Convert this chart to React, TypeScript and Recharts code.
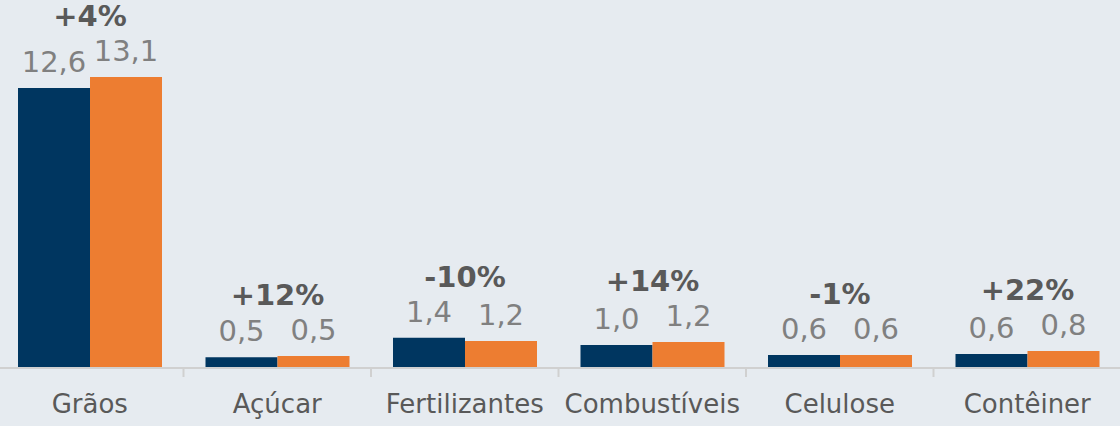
import { BarChart, Bar, XAxis, YAxis, LabelList } from 'recharts'

const categories = ['Grãos', 'Açúcar', 'Fertilizantes', 'Combustíveis', 'Celulose', 'Contêiner']
const anterior = [12.6, 0.48, 1.36, 1.03, 0.58, 0.63]
const atual = [13.1, 0.54, 1.22, 1.17, 0.58, 0.77]
const variacao = ['+4%', '+12%', '-10%', '+14%', '-1%', '+22%']

const data = categories.map((name, i) => ({ name, anterior: anterior[i], atual: atual[i] }))

const W = 1125
const H = 426
const TOP = 57
const XAXIS_H = 58
const AXIS_Y = H - XAXIS_H
const BAND = W / categories.length

const BG = '#e6ebf0'
const NAVY = '#003660'
const ORANGE = '#ed7d31'
const FONT = '"DejaVu Sans", Verdana, sans-serif'

const fmt = (v: number) => v.toFixed(1).replace('.', ',')

function ValueLabel(props: any) {
  const { x, y, width, value } = props
  return (
    <text x={Number(x) + Number(width) / 2} y={Number(y) - 16} textAnchor="middle"
      fontSize={29} fill="#808080" fontFamily={FONT}>
      {fmt(Number(value))}
    </text>
  )
}

function ChangeLabel(props: any) {
  const { x, y, height, index } = props
  const ppu = Number(height) / atual[index]
  const base = Number(y) + Number(height)
  const top = base - Math.max(anterior[index], atual[index]) * ppu
  return (
    <text x={Number(x)} y={top - 51} textAnchor="middle" fontSize={29} fontWeight="bold"
      fill="#595959" fontFamily={FONT}>
      {variacao[index]}
    </text>
  )
}

function CategoryTick(props: any) {
  const { x, payload, index } = props
  return (
    <g>
      {index > 0 && (
        <line x1={x - BAND / 2} x2={x - BAND / 2} y1={AXIS_Y} y2={AXIS_Y + 9} stroke="#d0d0d0" strokeWidth={2} />
      )}
      <text x={x} y={AXIS_Y + 45} textAnchor="middle" fontSize={26} fill="#595959" fontFamily={FONT}>
        {payload.value}
      </text>
    </g>
  )
}

export default function App() {
  return (
    <div style={{ position: 'fixed', inset: 0, background: BG, overflow: 'hidden' }}>
      <div style={{ position: 'absolute', left: -4, top: 0 }}>
        <BarChart width={W} height={H} data={data} barGap={0} barSize={72}
          margin={{ top: TOP, right: 0, bottom: 0, left: 0 }}>
          <XAxis dataKey="name" height={XAXIS_H} interval={0} tickLine={false}
            axisLine={{ stroke: '#d0d0d0', strokeWidth: 2 }} tick={<CategoryTick />} />
          <YAxis hide domain={[0, 14]} />
          <Bar dataKey="anterior" name="Anterior" fill={NAVY} isAnimationActive={false}>
            <LabelList dataKey="anterior" content={<ValueLabel />} />
          </Bar>
          <Bar dataKey="atual" name="Atual" fill={ORANGE} isAnimationActive={false}>
            <LabelList dataKey="atual" content={<ValueLabel />} />
            <LabelList dataKey="atual" content={<ChangeLabel />} />
          </Bar>
        </BarChart>
      </div>
    </div>
  )
}
